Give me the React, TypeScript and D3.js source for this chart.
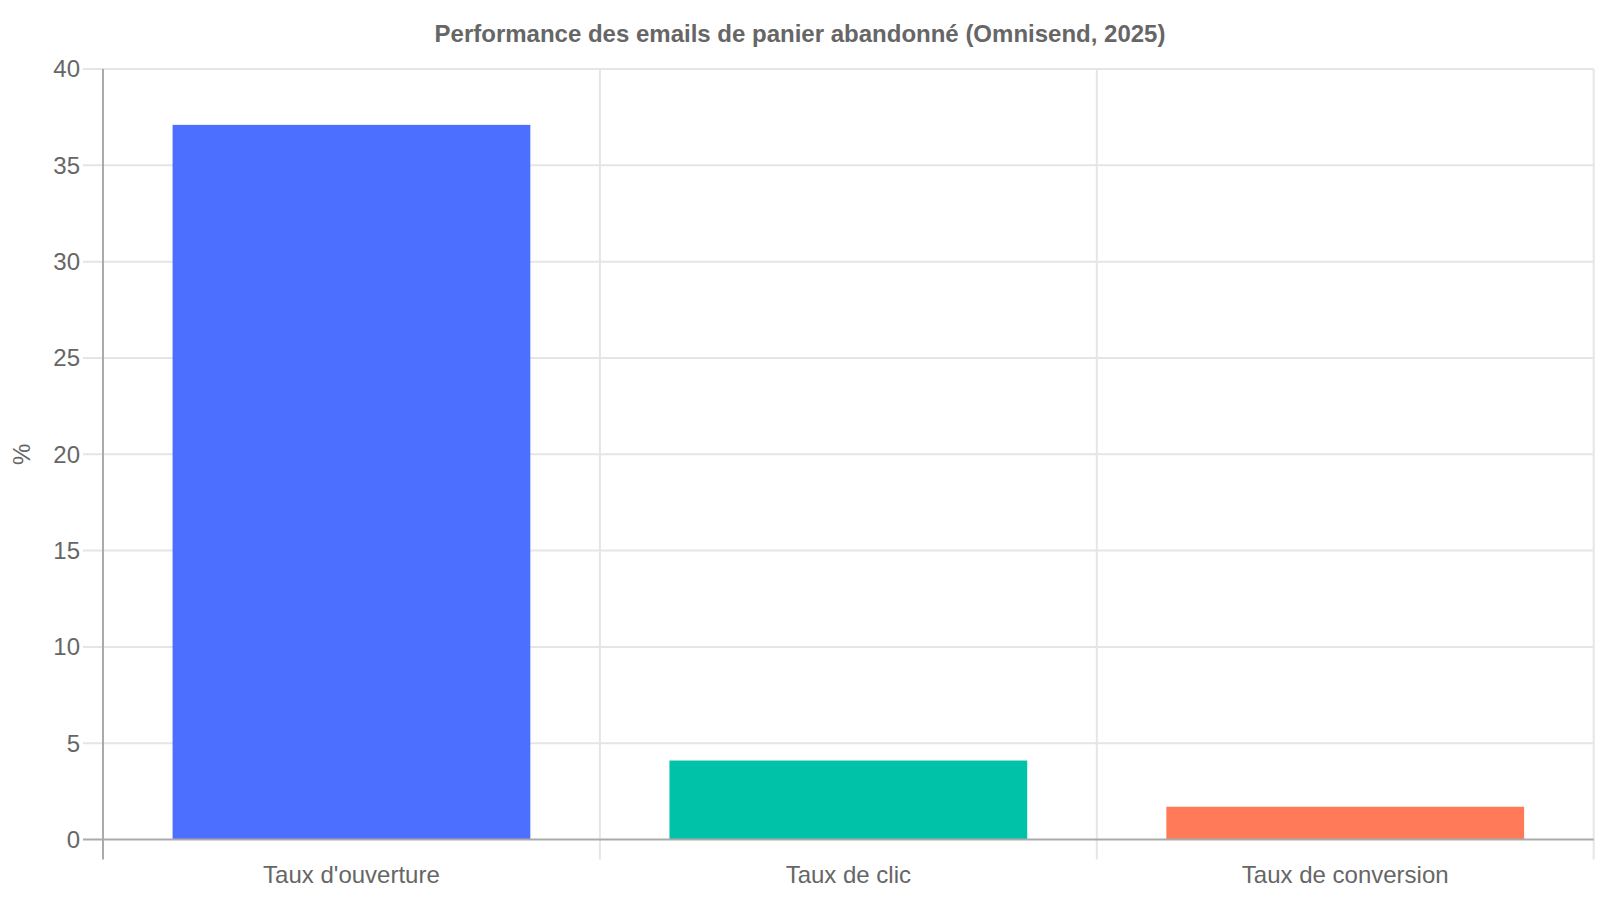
import React, {useRef, useEffect} from 'react';
import * as d3 from 'd3';

const categories: string[] = ["Taux d'ouverture", 'Taux de clic', 'Taux de conversion'];
const values: number[] = [37.1, 4.1, 1.7];
const barColors: string[] = ['#4d6fff', '#00c2a8', '#ff7a59'];
const yTicks: number[] = [0, 5, 10, 15, 20, 25, 30, 35, 40];

const title = 'Performance des emails de panier abandonné (Omnisend, 2025)';
const yLabel = '%';

const width = 1600;
const height = 900;
const margin = {top: 69, right: 6.3, bottom: 60.5, left: 103};

const App: React.FC = () => {
    const ref = useRef<SVGSVGElement | null>(null);

    useEffect(() => {
        if (!ref.current) return;
        const svg = d3.select(ref.current);
        const font = '"Liberation Sans", Arial, Helvetica, sans-serif';

        const x = d3.scaleBand<string>()
            .domain(categories)
            .range([margin.left, width - margin.right]);
        const y = d3.scaleLinear()
            .domain([0, 40])
            .range([height - margin.bottom, margin.top]);

        const x0 = margin.left;
        const x1 = width - margin.right;
        const y0 = height - margin.bottom;

        // horizontal grid + tick marks
        svg.append('g')
            .selectAll('line')
            .data(yTicks.filter(t => t !== 0))
            .join('line')
            .attr('x1', x0 - 20)
            .attr('x2', x1)
            .attr('y1', d => y(d))
            .attr('y2', d => y(d))
            .attr('stroke', '#e5e5e5')
            .attr('stroke-width', 2);

        // vertical grid at category boundaries
        const bounds = categories.map(c => x(c)! + x.bandwidth()).slice(0, -1);
        svg.append('g')
            .selectAll('line')
            .data(bounds)
            .join('line')
            .attr('x1', d => d)
            .attr('x2', d => d)
            .attr('y1', margin.top)
            .attr('y2', y0 + 20)
            .attr('stroke', '#e5e5e5')
            .attr('stroke-width', 2);
        svg.append('line')
            .attr('x1', x1).attr('x2', x1)
            .attr('y1', margin.top).attr('y2', y0 + 20)
            .attr('stroke', '#e5e5e5')
            .attr('stroke-width', 2);

        // bars
        const inner = x.bandwidth() * 0.72;
        svg.append('g')
            .selectAll('rect')
            .data(values)
            .join('rect')
            .attr('x', (d, i) => x(categories[i])! + (x.bandwidth() - inner) / 2)
            .attr('width', inner)
            .attr('y', d => y(d))
            .attr('height', d => y0 - y(d))
            .attr('fill', (d, i) => barColors[i]);

        // axes lines
        svg.append('line')
            .attr('x1', x0).attr('x2', x0)
            .attr('y1', margin.top).attr('y2', y0 + 20)
            .attr('stroke', '#aaaaaa')
            .attr('stroke-width', 2);
        svg.append('line')
            .attr('x1', x0 - 20).attr('x2', x1)
            .attr('y1', y0).attr('y2', y0)
            .attr('stroke', '#aaaaaa')
            .attr('stroke-width', 2);

        // y tick labels
        svg.append('g')
            .selectAll('text')
            .data(yTicks)
            .join('text')
            .attr('x', x0 - 23)
            .attr('y', d => y(d))
            .attr('dy', '0.35em')
            .attr('text-anchor', 'end')
            .attr('font-family', font)
            .attr('font-size', 24)
            .attr('fill', '#666')
            .text(d => d);

        // x tick labels
        svg.append('g')
            .selectAll('text')
            .data(categories)
            .join('text')
            .attr('x', d => x(d)! + x.bandwidth() / 2)
            .attr('y', y0 + 43)
            .attr('text-anchor', 'middle')
            .attr('font-family', font)
            .attr('font-size', 24)
            .attr('fill', '#666')
            .text(d => d);

        // y axis title
        svg.append('text')
            .attr('transform', `translate(30,${(margin.top + y0) / 2}) rotate(-90)`)
            .attr('text-anchor', 'middle')
            .attr('font-family', font)
            .attr('font-size', 24)
            .attr('fill', '#666')
            .text(yLabel);

        // chart title
        svg.append('text')
            .attr('x', width / 2)
            .attr('y', 42.3)
            .attr('text-anchor', 'middle')
            .attr('font-family', font)
            .attr('font-size', 24)
            .attr('font-weight', 'bold')
            .attr('fill', '#666')
            .text(title);

        return () => {
            // eslint-disable-next-line react-hooks/exhaustive-deps
            d3.select(ref.current).selectAll('*').remove();
        };
    }, []);

    return <svg ref={ref} width={width} height={height}
                style={{position: 'absolute', left: 0, top: 0, background: '#fff'}}></svg>;
};

export default App;
